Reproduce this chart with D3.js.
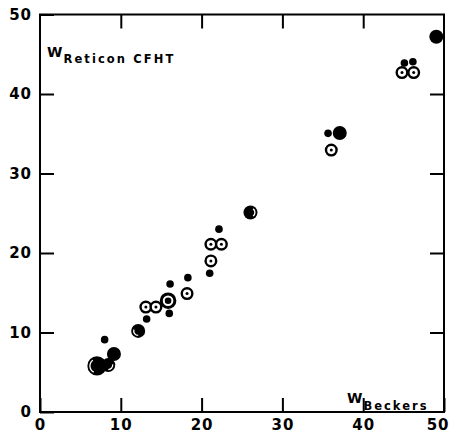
<!DOCTYPE html>
<html><head><meta charset="utf-8">
<script src="https://cdn.jsdelivr.net/npm/d3@7"></script>
<style>body{margin:0;background:#fff}svg{display:block}</style>
</head><body><svg id="c" width="450" height="435"></svg>
<script>
// ---- data ----
const xTicks = [0, 10, 20, 30, 40, 50];
const yTicks = [0, 10, 20, 30, 40, 50];
// small filled dots
const smallX = [8.0, 13.2, 16.0, 16.1, 18.3, 21.0, 22.15, 35.65, 45.1, 46.15];
const smallY = [9.1, 11.7, 12.4, 16.1, 16.9, 17.45, 23.0, 35.05, 43.9, 44.05];
// open circles with centre dot
const openX = [13.1, 14.35, 18.2, 21.15, 21.15, 22.45, 36.05, 44.8, 46.25];
const openY = [13.2, 13.2, 14.9, 19.0, 21.1, 21.1, 32.95, 42.7, 42.7];
// large filled circle
const largeX = [7.05];
const largeY = [5.8];
// medium filled circles
const mediumX = [8.45, 9.15, 12.15, 26.05, 37.1, 49.05];
const mediumY = [5.9, 7.3, 10.2, 25.1, 35.1, 47.2];
// filled circle containing an open circle
const ringedX = [15.85];
const ringedY = [14.0];

// ---- layout ----
const svg = d3.select("#c");
const x = d3.scaleLinear().domain([0, 50]).range([40, 444]);
const y = d3.scaleLinear().domain([0, 50]).range([412, 14.5]);
const FONT = "'DejaVu Sans', sans-serif";
const TL = 14;

const g = svg.append("g");
// frame
g.append("rect").attr("x", x(0)).attr("y", y(50))
  .attr("width", x(50) - x(0)).attr("height", y(0) - y(50))
  .attr("fill", "none").attr("stroke", "#000").attr("stroke-width", 2);

// axes with inward ticks
const axB = d3.axisBottom(x).tickValues(xTicks).tickSize(-TL).tickPadding(7.5);
const axL = d3.axisLeft(y).tickValues(yTicks).tickSize(-TL).tickPadding(8);
const axT = d3.axisTop(x).tickValues(xTicks.slice(1, -1)).tickSize(-TL).tickFormat("");
const axR = d3.axisRight(y).tickValues(yTicks.slice(1, -1)).tickSize(-TL).tickFormat("");

function styleAxis(sel) {
  sel.select(".domain").remove();
  sel.selectAll(".tick line").attr("stroke", "#000").attr("stroke-width", 2);
  sel.selectAll(".tick text").attr("fill", "#000")
    .style("font-family", FONT).style("font-weight", "bold")
    .style("font-size", "15px").style("letter-spacing", "1px");
}
const gB = g.append("g").attr("transform", `translate(0,${y(0)})`).call(axB).call(styleAxis);
// keep the last label inside the picture
gB.selectAll(".tick text").filter(d => d === 50).attr("text-anchor", "end").attr("x", 5);
g.append("g").attr("transform", `translate(${x(0)},0)`).call(axL).call(styleAxis);
g.append("g").attr("transform", `translate(0,${y(50)})`).call(axT).call(styleAxis);
g.append("g").attr("transform", `translate(${x(50)},0)`).call(axR).call(styleAxis);

// ---- marks ----
const pts = (xs, ys) => xs.map((v, i) => ({x: v, y: ys[i], i}));
const marks = svg.append("g");

// small filled
marks.selectAll("circle.small").data(pts(smallX, smallY)).join("circle")
  .attr("class", "small").attr("cx", d => x(d.x)).attr("cy", d => y(d.y))
  .attr("r", 3.8).attr("fill", "#000");

// large & medium filled with glossy arcs
const glossArc = {
  l: [1.15, 1.8], bl: [1.0, 1.6], br: [0.45, 1.0], r: [0.2, 0.8]
};
function drawFilled(data, r, sides) {
  const sel = marks.append("g").selectAll("g").data(data).join("g")
    .attr("transform", d => `translate(${x(d.x)},${y(d.y)})`);
  sel.append("circle").attr("r", r).attr("fill", "#000");
  sel.filter(d => sides[d.i]).append("path")
    .attr("d", d => d3.arc()({innerRadius: r - 3.2, outerRadius: r - 1.9,
      startAngle: glossArc[sides[d.i]][0] * Math.PI, endAngle: glossArc[sides[d.i]][1] * Math.PI}))
    .attr("fill", "#fff");
}
drawFilled(pts(largeX, largeY), 9.6, ["l"]);
drawFilled(pts(mediumX, mediumY), 7, ["br", null, "bl", "r", null, null]);

// filled circle with white ring inside
const rg = marks.append("g").selectAll("g").data(pts(ringedX, ringedY)).join("g")
  .attr("transform", d => `translate(${x(d.x)},${y(d.y)})`);
rg.append("circle").attr("r", 8.3).attr("fill", "#000");
rg.append("circle").attr("r", 4.3).attr("fill", "none").attr("stroke", "#fff").attr("stroke-width", 2);

// open circles with centre dot
const og = marks.append("g").selectAll("g").data(pts(openX, openY)).join("g")
  .attr("transform", d => `translate(${x(d.x)},${y(d.y)})`);
og.append("circle").attr("r", 5.3).attr("fill", "#fff").attr("stroke", "#000").attr("stroke-width", 2.4);
og.append("circle").attr("r", 1.5).attr("fill", "#000");

// ---- axis titles ----
const t1 = svg.append("text").attr("x", 47).attr("y", 57)
  .style("font-family", FONT).style("font-weight", "bold").attr("fill", "#000");
t1.append("tspan").style("font-size", "14px").text("W");
t1.append("tspan").attr("dy", 6).attr("dx", 1).style("font-size", "11.5px")
  .style("letter-spacing", "2.1px").text("Reticon CFHT");

const t2 = svg.append("text").attr("x", 347).attr("y", 403)
  .style("font-family", FONT).style("font-weight", "bold").attr("fill", "#000");
t2.append("tspan").style("font-size", "14px").text("W");
t2.append("tspan").attr("dy", 7).attr("dx", 1).style("font-size", "11.5px")
  .style("letter-spacing", "2px").text("Beckers");
</script></body></html>
